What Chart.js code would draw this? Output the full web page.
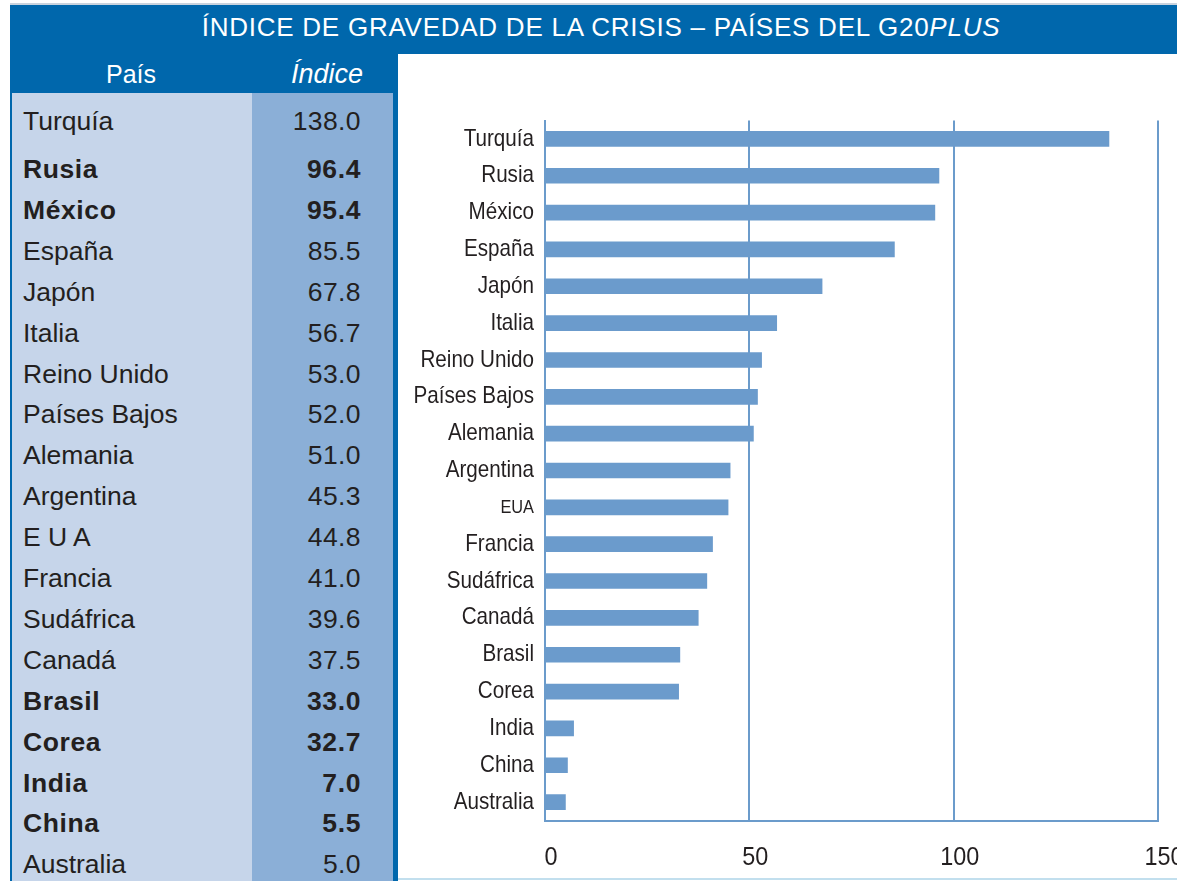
<!DOCTYPE html>
<html>
<head>
<meta charset="utf-8">
<script src="https://cdn.jsdelivr.net/npm/chart.js@4.4.1/dist/chart.umd.min.js"></script>
<style>
  html, body { margin: 0; padding: 0; background: #ffffff; }
  body { width: 1177px; height: 881px; position: relative; overflow: hidden; font-family: "Liberation Sans", Arial, sans-serif; }
  .abs { position: absolute; }
  #topline { left: 10px; top: 3px; width: 1167px; height: 2px; background: #c9d3de; }
  #titlebar { left: 10px; top: 5px; width: 1167px; height: 49px; background: #0067ac; }
  #title { left: 10px; top: 5px; width: 1182px; height: 45px; line-height: 45px; text-align: center; color: #fff; font-size: 26px; letter-spacing: 0.75px; white-space: nowrap; }
  #panel { left: 10px; top: 54px; width: 388px; height: 827px; background: #0067ac; }
  #colA { left: 12px; top: 93px; width: 240px; height: 788px; background: #c6d5ea; }
  #colB { left: 252px; top: 93px; width: 141px; height: 788px; background: #8bafd7; }
  .hdr { top: 54px; height: 40px; line-height: 40px; color: #fff; font-size: 25px; }
  .name, .val { height: 40px; line-height: 40px; font-size: 26.5px; color: #231f20; white-space: nowrap; }
  .name { left: 23px; }
  .val { left: 252px; width: 109px; text-align: right; }
  .val.n { letter-spacing: 0.4px; }
  .b { font-weight: bold; letter-spacing: 0.6px; }
  #chartbox { left: 398px; top: 54px; width: 779px; height: 827px; }
  #bottomline { left: 398px; top: 878px; width: 779px; height: 2px; background: #c2dfee; }
</style>
</head>
<body>
<div class="abs" id="topline"></div>
<div class="abs" id="titlebar"></div>
<div class="abs" id="title">ÍNDICE DE GRAVEDAD DE LA CRISIS – PAÍSES DEL G20<i>PLUS</i></div>
<div class="abs" id="panel"></div>
<div class="abs" id="colA"></div>
<div class="abs" id="colB"></div>
<div class="abs hdr" style="left:106px;">País</div>
<div class="abs hdr" style="left:252px;width:111px;text-align:right;font-size:27px;"><i>Índice</i></div>
<div id="rows"></div>
<div class="abs" id="chartbox"><canvas id="c"></canvas></div>
<div class="abs" id="bottomline"></div>

<script>
// ---- Data ----
const countries = ["Turquía","Rusia","México","España","Japón","Italia","Reino Unido","Países Bajos","Alemania","Argentina","EUA","Francia","Sudáfrica","Canadá","Brasil","Corea","India","China","Australia"];
const tableNames = ["Turquía","Rusia","México","España","Japón","Italia","Reino Unido","Países Bajos","Alemania","Argentina","E U A","Francia","Sudáfrica","Canadá","Brasil","Corea","India","China","Australia"];
const indexValues = [138.0, 96.4, 95.4, 85.5, 67.8, 56.7, 53.0, 52.0, 51.0, 45.3, 44.8, 41.0, 39.6, 37.5, 33.0, 32.7, 7.0, 5.5, 5.0];
const boldRows = [false, true, true, false, false, false, false, false, false, false, false, false, false, false, true, true, true, true, false];
const xTicks = [0, 50, 100, 150];

// ---- Table ----
const rowsEl = document.getElementById('rows');
tableNames.forEach((n, i) => {
  const center = i === 0 ? 121 : 169 + (i - 1) * 40.9;
  const top = center - 20;
  const nm = document.createElement('div');
  nm.className = 'abs name' + (boldRows[i] ? ' b' : '');
  nm.style.top = top + 'px';
  nm.textContent = n;
  rowsEl.appendChild(nm);
  const v = document.createElement('div');
  v.className = 'abs val' + (boldRows[i] ? ' b' : ' n');
  v.style.top = top + 'px';
  v.textContent = indexValues[i].toFixed(1);
  rowsEl.appendChild(v);
});

// ---- Chart ----
const canvas = document.getElementById('c');
const ctx2d = canvas.getContext('2d');
// condensed rendering of axis text (no narrow font installed)
const origFill = CanvasRenderingContext2D.prototype.fillText;
ctx2d.fillText = function (t, x, y, mw) {
  const sx = this.textAlign === 'right' ? 0.86 : (this.textAlign === 'center' ? 0.9 : 1);
  if (sx === 1) return origFill.call(this, t, x, y, mw);
  this.save();
  this.translate(x, y);
  this.scale(sx, 1);
  origFill.call(this, t, 0, 0, mw);
  this.restore();
};

const fam = '"Liberation Sans", Arial, sans-serif';
const lineColor = '#6b9bcb';
new Chart(canvas, {
  type: 'bar',
  data: {
    labels: countries,
    datasets: [{
      data: indexValues,
      backgroundColor: '#6b9bcc',
      barThickness: 15
    }]
  },
  options: {
    indexAxis: 'y',
    responsive: true,
    maintainAspectRatio: false,
    animation: false,
    layout: { padding: { top: 66.5, right: 19, bottom: 0, left: 0 } },
    plugins: { legend: { display: false }, tooltip: { enabled: false } },
    scales: {
      x: {
        min: 0, max: 150,
        afterBuildTicks: (s) => { s.ticks = xTicks.map(v => ({ value: v })); },
        afterFit: (s) => { s.height = 60.5; s.paddingRight = 0; s.paddingLeft = 0; },
        grid: { color: lineColor, lineWidth: 2, drawTicks: false },
        border: { display: true, color: lineColor, width: 2 },
        ticks: { color: '#231f20', font: { family: fam, size: 26 }, padding: 22, labelOffset: 6 }
      },
      y: {
        afterFit: (s) => { s.width = 147; },
        grid: { display: false, drawTicks: false },
        border: { display: true, color: lineColor, width: 2 },
        ticks: {
          color: '#231f20',
          padding: 11,
          font: (ctx) => ({ family: fam, size: countries[ctx.index] === 'EUA' ? 19 : 24 })
        }
      }
    }
  }
});
</script>
</body>
</html>
